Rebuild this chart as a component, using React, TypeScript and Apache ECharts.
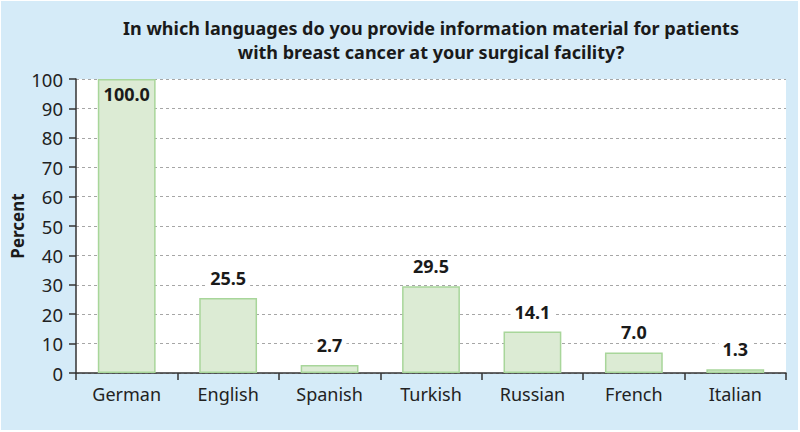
import React, { useEffect, useRef } from "react";
import * as echarts from "echarts";

const categories = ["German", "English", "Spanish", "Turkish", "Russian", "French", "Italian"];
const percentValues = [100.0, 25.5, 2.7, 29.5, 14.1, 7.0, 1.3];
const titleLines = [
  "In which languages do you provide information material for patients",
  "with breast cancer at your surgical facility?",
];
const yAxisTitle = "Percent";

const FONT = "Noto Sans";

export default function App() {
  const ref = useRef<HTMLDivElement>(null);
  useEffect(() => {
    if (!ref.current) return;
    const chart = echarts.init(ref.current, undefined, { renderer: "svg" });
    const data = percentValues.map((v, i) => ({
      value: v,
      label:
        i === 0
          ? { position: "insideTop", distance: 5, backgroundColor: "transparent" }
          : { position: "top", distance: 10 },
    }));
    chart.setOption({
      animation: false,
      backgroundColor: "#ffffff",
      textStyle: { fontFamily: FONT },
      graphic: [
        {
          type: "rect",
          z: -10,
          silent: true,
          shape: { x: 1, y: 1, width: 797, height: 429 },
          style: { fill: "#d5ebf8" },
        },
        {
          type: "rect",
          z: -5,
          silent: true,
          shape: { x: 76, y: 79, width: 710, height: 294 },
          style: { fill: "#ffffff" },
        },
        {
          type: "text",
          x: 431,
          y: 16,
          style: {
            text: titleLines.join("\n"),
            fontFamily: FONT,
            fontSize: 18,
            fontWeight: "bold",
            lineHeight: 24,
            fill: "#1a1a1a",
            align: "center",
            verticalAlign: "top",
          },
        },
      ],
      grid: {
        left: 76,
        right: 14,
        top: 79,
        bottom: 59,
        containLabel: false,
        outerBoundsMode: "none",
      },
      xAxis: {
        type: "category",
        data: categories,
        boundaryGap: true,
        axisLine: { show: true, lineStyle: { color: "#333", width: 1.5 } },
        axisTick: { show: true, length: 7, alignWithLabel: false, lineStyle: { color: "#333", width: 1.5 } },
        axisLabel: { fontSize: 18, color: "#222", margin: 12, fontFamily: FONT },
      },
      yAxis: {
        type: "value",
        min: 0,
        max: 100,
        interval: 10,
        name: yAxisTitle,
        nameLocation: "middle",
        nameRotate: 90,
        nameGap: 50,
        nameMoveOverlap: false,
        nameTextStyle: { fontSize: 17, fontWeight: "bold", color: "#1a1a1a", fontFamily: FONT },
        axisLine: { show: true, lineStyle: { color: "#333", width: 1.5 } },
        axisTick: { show: true, length: 7, lineStyle: { color: "#333", width: 1.5 } },
        axisLabel: { fontSize: 18.5, color: "#222", margin: 13, fontFamily: FONT },
        splitLine: { show: true, lineStyle: { color: "#a6a6a6", type: [3, 3], width: 1 } },
      },
      series: [
        {
          type: "bar",
          data,
          barWidth: "57%",
          itemStyle: { color: "#dcebd4", borderColor: "#a8d69a", borderWidth: 1.5 },
          label: {
            show: true,
            formatter: (p: any) => Number(p.value).toFixed(1),
            fontSize: 18,
            fontWeight: "bold",
            color: "#1a1a1a",
            fontFamily: FONT,
            backgroundColor: "#ffffff",
            padding: [1, 4],
          },
        },
      ],
    });
    return () => chart.dispose();
  }, []);
  return (
    <div
      ref={ref}
      style={{ position: "fixed", left: 0, top: 0, width: 800, height: 432 }}
    />
  );
}
